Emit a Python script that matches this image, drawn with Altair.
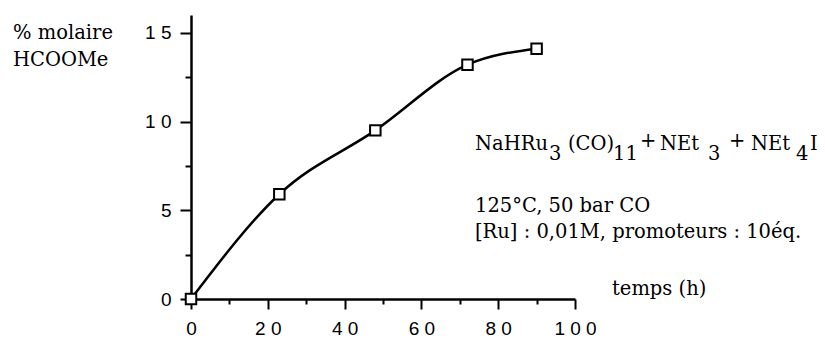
import altair as alt
import pandas as pd

# ---- data ----
time_h = [0, 23, 48, 72, 90]
hcoome_pct = [0.0, 5.9, 9.5, 13.2, 14.1]
x_major = [0, 20, 40, 60, 80, 100]
x_minor = [10, 30, 50, 70, 90]
y_major = [0, 5, 10, 15]
y_minor = [2.5, 7.5, 12.5]

W, H = 384, 284
SERIF = "DejaVu Serif"
SANS = "Liberation Sans"
TS = 19.5  # annotation font size

df = pd.DataFrame({"t": time_h, "y": hcoome_pct})

xscale = alt.Scale(domain=[0, 100], nice=False, zero=False)
yscale = alt.Scale(domain=[0, 16], nice=False, zero=False)

spaced = "join(split(datum.label, ''), ' ')"

x_major_axis = alt.Axis(
    orient="bottom", values=x_major, title=None, grid=False,
    domainColor="black", domainWidth=2.5, tickColor="black", tickWidth=2,
    tickSize=10, labelFont=SANS, labelFontSize=19, labelColor="black",
    labelPadding=10, labelFlush=False, labelOverlap=False, labelExpr=spaced,
)
x_minor_axis = alt.Axis(
    orient="bottom", values=x_minor, title=None, grid=False, domain=False,
    labels=False, tickColor="black", tickWidth=2, tickSize=5,
)
y_major_axis = alt.Axis(
    orient="left", values=y_major, title=None, grid=False,
    domainColor="black", domainWidth=2.5, tickColor="black", tickWidth=2,
    tickSize=11, labelFont=SANS, labelFontSize=19, labelColor="black",
    labelPadding=9, labelFlush=False, labelOverlap=False, labelExpr=spaced,
)
y_minor_axis = alt.Axis(
    orient="left", values=y_minor, title=None, grid=False, domain=False,
    labels=False, tickColor="black", tickWidth=2, tickSize=6,
)

line = alt.Chart(df).mark_line(
    interpolate="monotone", color="black", strokeWidth=2.5
).encode(
    x=alt.X("t:Q", scale=xscale, axis=x_major_axis),
    y=alt.Y("y:Q", scale=yscale, axis=y_major_axis),
)

points = alt.Chart(df).mark_point(
    shape="square", size=110, filled=False, fill="white", fillOpacity=1,
    stroke="black", strokeWidth=2, opacity=1,
).encode(
    x=alt.X("t:Q", scale=xscale, axis=x_minor_axis),
    y=alt.Y("y:Q", scale=yscale, axis=y_minor_axis),
)


def txt(s, x, y, size=TS, font=SERIF):
    return alt.Chart(alt.Data(values=[{}])).mark_text(
        text=s, font=font, fontSize=size, align="left",
        baseline="alphabetic", color="black",
    ).encode(x=alt.value(x), y=alt.value(y))


# positions are relative to the plot area's top-left corner (191, 15)
L1, SUB = 135, 145
texts = [
    txt("% molaire", -178, 24),
    txt("HCOOMe", -178, 51),
    txt("temps  (h)", 421, 280),
    # formula line with subscripts
    txt("NaHRu", 284, L1),
    txt("3", 358, SUB),
    txt("(CO)", 377, L1),
    txt("11", 422, SUB),
    txt("+", 449, L1 - 3),
    txt("NEt", 469, L1),
    txt("3", 517, SUB),
    txt("+", 538, L1 - 3),
    txt("NEt", 560, L1),
    txt("4", 605, SUB),
    txt("I", 619, L1),
    txt("125°C, 50 bar CO", 284, 197),
    txt("[Ru] : 0,01M, promoteurs : 10éq.", 284, 223),
]

chart = alt.layer(line, points, *texts).resolve_axis(
    x="independent", y="independent"
).properties(
    width=W, height=H,
    padding={"left": 191, "top": 15, "right": 250, "bottom": 41},
    autosize=alt.AutoSizeParams(type="none"),
    background="white",
).configure_view(stroke=None)

chart.save("out.html", embed_options={"renderer": "svg", "actions": False})
